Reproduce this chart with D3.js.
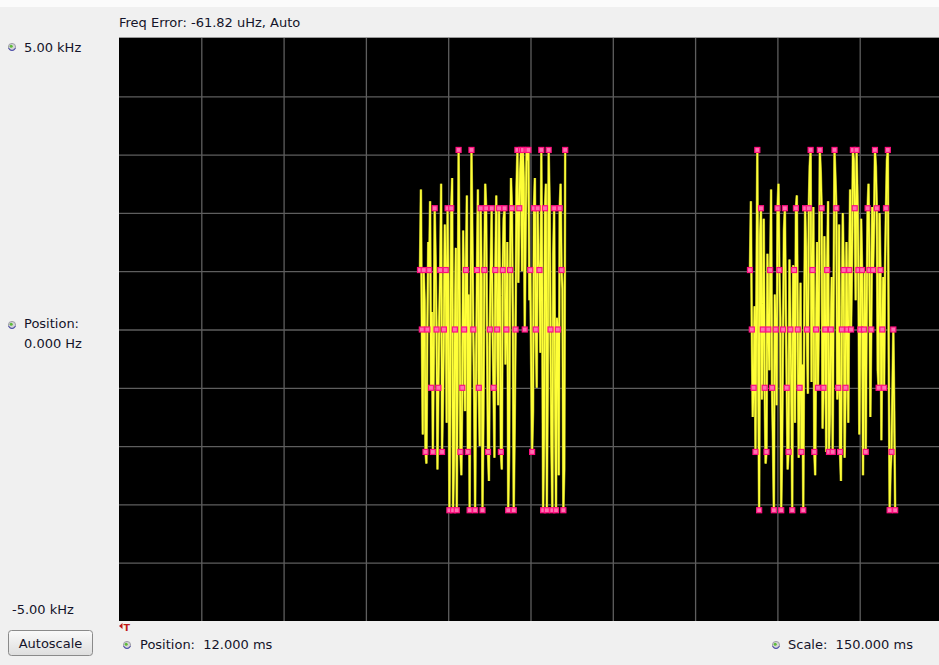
<!DOCTYPE html>
<html>
<head>
<meta charset="utf-8">
<script src="https://cdn.jsdelivr.net/npm/d3@7"></script>
<style>
  html, body { margin: 0; padding: 0; background: #f0f0f0; }
  svg { display: block; }
  text { font-family: "DejaVu Sans", Verdana, sans-serif; fill: #14142a; }
</style>
</head>
<body>
<svg id="chart" width="939" height="665"></svg>
<script>
// ---------------- data ----------------
const headerText = "Freq Error: -61.82 uHz, Auto";
const yTopLabel = "5.00 kHz";
const yBottomLabel = "-5.00 kHz";
const yPosLabel = ["Position:", "0.000 Hz"];
const xPosLabel = "Position:  12.000 ms";
const xScaleLabel = "Scale:  150.000 ms";
const buttonLabel = "Autoscale";

const xDomainMs = [12, 162];          // position 12 ms, scale 150 ms
const yDomainKHz = [-5, 5];
const xGridMs = [27, 42, 57, 72, 87, 102, 117, 132, 147];
const yGridKHz = [-4, -3, -2, -1, 0, 1, 2, 3, 4];

// symbol level -> measured frequency (kHz)
const symbolLevels = [-3, -2, -1, 0, 1, 2, 3];
const levelKHz = [-3.1, -2.1, -1.0, 0.0, 1.02, 2.08, 3.08];

const burstStartMs = [66.86, 127.0];
const symbolPeriodMs = 0.335;

const burst1Symbols = [
  1, 0, 1, -2, 0, 1, -1, -2, 2, 0,
  -1, 1, -2, 0, 1, 2, -3, 2, -3, 0,
  -3, 3, -2, -1, 0, 1, -2, -3, 3, 0,
  -3, 1, -1, 2, -3, 1, 2, -2, 0, 2,
  -1, 1, 0, 2, -2, 1, 2, 0, -3, 1,
  2, -3, 0, 3, 2, 3, 3, 0, 3, 3,
  1, -2, 2, 0, 2, 1, 3, -3, 2, -3,
  3, 0, -3, 2, -3, 0, 2, 1, -3, 3
];
const burst1Mid = [
  2.4, -1.8, 0.5, -2.3, 1.5, 2.2, 0.3, -0.4, 1.2, -2.4,
  0.2, 2.5, -1.2, 1.8, -1.6, 0.4, -1.0, 2.6, -2.2, 1.4,
  -0.5, 1.0, -2.5, 1.7, -1.4, 2.3, 0.6, 0.0, 1.6, -1.2,
  -0.8, 2.4, -2.0, 0.9, -1.5, 2.5, -0.2, -2.6, 1.1, 0.0,
  -2.2, 2.3, -1.3, 0.7, -2.4, 1.9, -0.6, 1.5, -2.1, 2.6,
  0.3, -1.7, 2.4, 0.8, 2.7, 1.0, 2.5, 1.8, 2.9, 0.5,
  -0.6, -1.4, 2.6, -1.0, 1.2, -0.4, 0.6, -1.8, 2.5, -0.9,
  2.2, -2.0, 1.3, -1.1, 0.2, -2.5, 2.5, 0.7, -2.4
];

const burst2Symbols = [
  1, 0, -1, -2, 3, -3, 2, 0, -1, -2,
  0, 1, -1, -3, 0, 2, 1, -3, 0, 2,
  -1, -2, 0, -3, 1, 2, 0, -1, -2, -3,
  2, 0, 2, 3, 1, -2, 0, -1, 3, 2,
  -1, 0, 1, -2, 0, -2, 3, 2, -1, -2,
  0, 1, -1, 0, 1, 0, 3, 2, 3, 1,
  0, 1, 0, -2, 2, 1, 0, 1, 3, 2,
  -1, 1, 0, -1, 2, 3, -3, -2, 0, -3
];
const burst2Mid = [
  2.2, -1.5, 0.4, 0.5, -0.8, 1.6, -1.2, 1.9, -2.3, 1.3,
  -0.7, 2.4, -1.9, 0.6, -1.3, 2.5, 0.2, -2.0, 1.7, 0.4,
  -2.4, 1.2, -1.0, 1.1, -1.6, 2.3, -2.2, 0.8, -0.6, 0.1,
  1.4, -1.1, 2.8, -0.9, 2.1, -2.5, 1.5, 0.3, 2.7, -1.7,
  1.6, -2.1, 2.2, -1.4, 0.9, 0.7, 2.6, -1.2, 1.8, -2.6,
  2.0, -2.2, 1.5, -1.6, 2.4, 1.1, 2.9, 0.5, 2.3, -1.8,
  1.9, -2.5, 1.0, 0.3, 2.5, -1.5, 2.1, 1.8, 2.8, -0.7,
  2.0, -1.9, 0.9, 1.1, 2.9, -0.5, -2.4, -1.1, -1.4
];

const bursts = [
  { start: burstStartMs[0], symbols: burst1Symbols, mids: burst1Mid },
  { start: burstStartMs[1], symbols: burst2Symbols, mids: burst2Mid }
];

// ---------------- layout ----------------
const svg = d3.select("#chart");
const W = 939, H = 665;
const plot = { left: 119, top: 38, width: 823, height: 583 };

svg.append("rect").attr("width", W).attr("height", H).attr("fill", "#f0f0f0");
svg.append("rect").attr("width", W).attr("height", 7).attr("fill", "#fbfbfb");

const x = d3.scaleLinear().domain(xDomainMs).range([plot.left, plot.left + plot.width]);
const y = d3.scaleLinear().domain(yDomainKHz).range([plot.top + plot.height, plot.top]);
const lvl = d3.scaleOrdinal().domain(symbolLevels).range(levelKHz);

// plot background
svg.append("line")
  .attr("x1", plot.left).attr("x2", W)
  .attr("y1", plot.top - 0.5).attr("y2", plot.top - 0.5)
  .attr("stroke", "#9a9a9a");
svg.append("rect")
  .attr("x", plot.left).attr("y", plot.top)
  .attr("width", plot.width).attr("height", plot.height)
  .attr("fill", "#000");

svg.append("clipPath").attr("id", "pclip")
  .append("rect").attr("x", plot.left).attr("y", plot.top)
  .attr("width", plot.width).attr("height", plot.height);

// grid via axes
const gx = svg.append("g")
  .attr("transform", `translate(0,${plot.top + plot.height})`)
  .call(d3.axisBottom(x).tickValues(xGridMs).tickSize(-plot.height).tickFormat(""));
const gy = svg.append("g")
  .attr("transform", `translate(${plot.left},0)`)
  .call(d3.axisLeft(y).tickValues(yGridKHz).tickSize(-plot.width).tickFormat(""));
[gx, gy].forEach(g => {
  g.select(".domain").remove();
  g.selectAll(".tick line").attr("stroke", "#5e5e5e").attr("stroke-width", 1.3);
});

// traces
const gTrace = svg.append("g").attr("clip-path", "url(#pclip)");
const line = d3.line().x(d => x(d.t)).y(d => y(d.v));

bursts.forEach(b => {
  const pts = [];
  const syms = [];
  b.symbols.forEach((s, i) => {
    const t = b.start + i * symbolPeriodMs;
    const p = { t: t, v: lvl(s) };
    pts.push(p);
    syms.push(p);
    if (i < b.mids.length) {
      pts.push({ t: t + symbolPeriodMs / 2, v: b.mids[i] });
    }
  });
  gTrace.append("path")
    .datum(pts)
    .attr("fill", "none")
    .attr("stroke", "#8f8f1c")
    .attr("stroke-width", 2.6)
    .attr("d", line);
  gTrace.append("path")
    .datum(pts)
    .attr("fill", "none")
    .attr("stroke", "#ffff38")
    .attr("stroke-width", 1.6)
    .attr("d", line);
  gTrace.selectAll(null)
    .data(syms)
    .enter().append("rect")
    .attr("x", d => x(d.t) - 2.5)
    .attr("y", d => y(d.v) - 2.5)
    .attr("width", 5).attr("height", 5)
    .attr("fill", "#ff70b0")
    .attr("stroke", "#ff1080")
    .attr("stroke-width", 1.2);
});

// ---------------- labels ----------------
function knob(cx, cy) {
  const g = svg.append("g");
  g.append("circle").attr("cx", cx).attr("cy", cy).attr("r", 3.6)
    .attr("fill", "#d6d6d6").attr("stroke", "#8d8d9a").attr("stroke-width", 0.8);
  g.append("circle").attr("cx", cx - 0.8).attr("cy", cy - 0.8).attr("r", 1.5)
    .attr("fill", "#5dbb3a");
  g.append("path")
    .attr("d", `M${cx - 3.4},${cy + 1} A3.6,3.6 0 0 0 ${cx + 3.4},${cy + 1}`)
    .attr("fill", "none").attr("stroke", "#4040b0").attr("stroke-width", 1);
}

const fs = 13;
svg.append("text").attr("x", 119).attr("y", 27).attr("font-size", fs).text(headerText);

knob(12, 47);
svg.append("text").attr("x", 24).attr("y", 52).attr("font-size", fs).text(yTopLabel);

knob(12, 325);
svg.append("text").attr("x", 24).attr("y", 328).attr("font-size", fs).text(yPosLabel[0]);
svg.append("text").attr("x", 24).attr("y", 348).attr("font-size", fs).text(yPosLabel[1]);

svg.append("text").attr("x", 12).attr("y", 614).attr("font-size", fs).text(yBottomLabel);

// trigger marker
svg.append("path").attr("d", "M119,626 L122.5,623 L122.5,629 Z").attr("fill", "#c01818");
svg.append("text").attr("x", 123.5).attr("y", 631).attr("font-size", 9.5)
  .attr("font-weight", "bold").style("fill", "#c01818").text("T");

// autoscale button
const grad = svg.append("defs").append("linearGradient").attr("id", "btn")
  .attr("x1", 0).attr("x2", 0).attr("y1", 0).attr("y2", 1);
grad.append("stop").attr("offset", "0%").attr("stop-color", "#fafafa");
grad.append("stop").attr("offset", "100%").attr("stop-color", "#dedede");
svg.append("rect").attr("x", 8.5).attr("y", 630.5).attr("width", 84).attr("height", 25)
  .attr("rx", 3).attr("fill", "url(#btn)").attr("stroke", "#8a8a8a");
svg.append("text").attr("x", 50.5).attr("y", 648).attr("font-size", fs)
  .attr("text-anchor", "middle").text(buttonLabel);

knob(127, 645);
svg.append("text").attr("x", 140).attr("y", 649).attr("font-size", fs)
  .style("white-space", "pre").text(xPosLabel);

knob(776, 645);
svg.append("text").attr("x", 788).attr("y", 649).attr("font-size", fs)
  .style("white-space", "pre").text(xScaleLabel);
</script>
</body>
</html>
